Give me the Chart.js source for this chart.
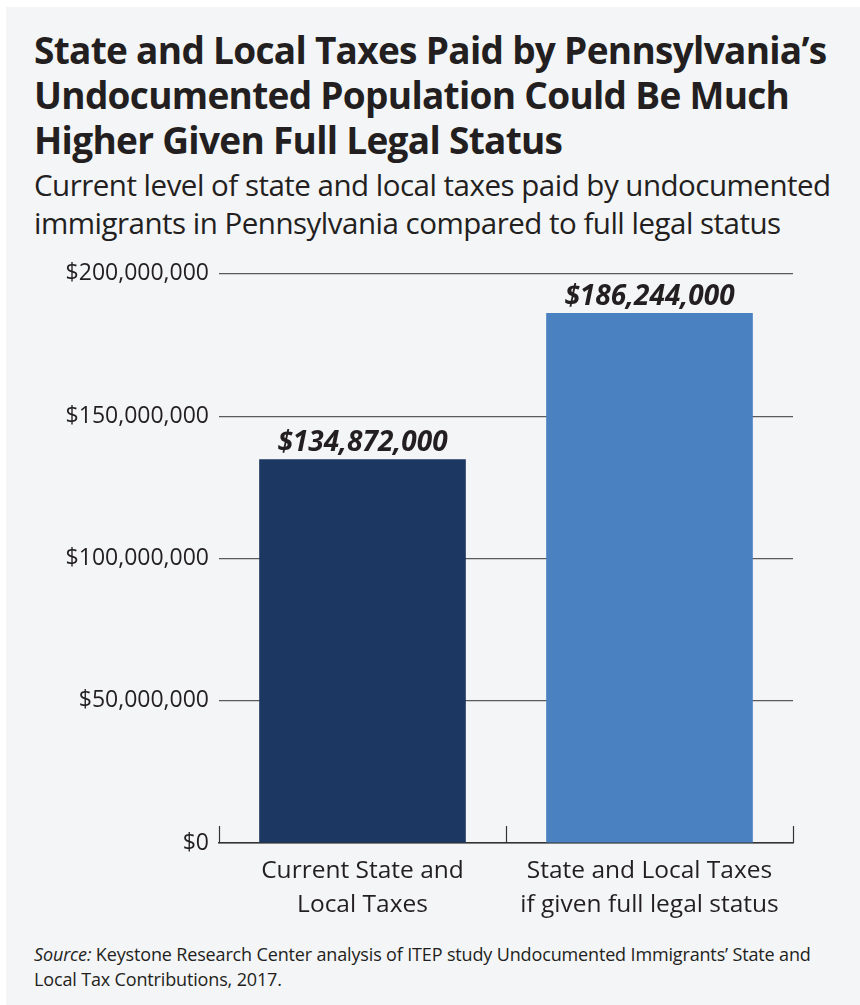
<!DOCTYPE html>
<html>
<head>
<meta charset="utf-8">
<script src="https://cdn.jsdelivr.net/npm/chart.js@4"></script>
<style>
  html, body { margin: 0; padding: 0; background: #fff; }
  body { width: 860px; height: 1005px; position: relative; overflow: hidden; font-family: "Open Sans", sans-serif; color: #231f20; }
  .panel { position: absolute; left: 6px; top: 7px; right: 0; bottom: 0; background: #f4f5f7; }
  .title { position: absolute; left: 34px; top: 27px; font-weight: 700; font-size: 37px; line-height: 45px; letter-spacing: -0.7px; white-space: nowrap; }
  .subtitle { position: absolute; left: 34px; top: 166px; font-weight: 400; font-size: 29.5px; line-height: 38px; letter-spacing: -0.5px; white-space: nowrap; }
  .source { position: absolute; left: 34px; top: 942px; font-size: 18px; line-height: 25px; letter-spacing: -0.15px; white-space: nowrap; }
  .chart-box { position: absolute; left: 0; top: 250px; width: 860px; height: 680px; }
</style>
</head>
<body>
<div class="panel"></div>
<div class="title">State and Local Taxes Paid by Pennsylvania’s<br>Undocumented Population Could Be Much<br>Higher Given Full Legal Status</div>
<div class="subtitle">Current level of state and local taxes paid by undocumented<br>immigrants in Pennsylvania compared to full legal status</div>
<div class="chart-box"><canvas id="taxChart" width="860" height="680"></canvas></div>
<div class="source"><i>Source:</i> Keystone Research Center analysis of ITEP study Undocumented Immigrants’ State and<br>Local Tax Contributions, 2017.</div>

<script>
// categories and values
const categories = [
    ['Current State and', 'Local Taxes'],
    ['State and Local Taxes', 'if given full legal status']
];
const taxesPaid = [134872000, 186244000];
const barColors = ['#1c3761', '#4a81c0'];
const yTicks = [0, 50000000, 100000000, 150000000, 200000000];

const money = v => '$' + v.toLocaleString('en-US');

// value labels above each bar
const valueLabels = {
    id: 'valueLabels',
    afterDatasetsDraw(chart) {
        const ctx = chart.ctx;
        const meta = chart.getDatasetMeta(0);
        ctx.save();
        ctx.font = 'italic 700 28px "Open Sans"';
        ctx.fillStyle = '#231f20';
        ctx.textAlign = 'center';
        ctx.textBaseline = 'alphabetic';
        meta.data.forEach((bar, i) => {
            ctx.fillText(money(taxesPaid[i]), bar.x, bar.y - 8);
        });
        ctx.restore();
    }
};

// short upward ticks on the category boundaries of the x axis
const boundaryTicks = {
    id: 'boundaryTicks',
    afterDraw(chart) {
        const x = chart.scales.x;
        const ctx = chart.ctx;
        const edges = [x.left];
        for (let i = 0; i < categories.length - 1; i++) {
            edges.push((x.getPixelForValue(i) + x.getPixelForValue(i + 1)) / 2);
        }
        edges.push(x.right);
        ctx.save();
        ctx.strokeStyle = '#333';
        ctx.lineWidth = 1.2;
        edges.forEach(px => {
            const p = Math.round(px) + 0.5;
            ctx.beginPath();
            ctx.moveTo(p, x.top);
            ctx.lineTo(p, x.top - 17);
            ctx.stroke();
        });
        ctx.restore();
    }
};

Chart.defaults.font.family = '"Open Sans", sans-serif';
Chart.defaults.color = '#231f20';

new Chart(document.getElementById('taxChart'), {
    type: 'bar',
    data: {
        labels: categories,
        datasets: [{
            data: taxesPaid,
            backgroundColor: barColors,
            barPercentage: 0.72,
            categoryPercentage: 1.0
        }]
    },
    options: {
        responsive: false,
        animation: false,
        layout: { padding: { top: 19, right: 67, left: 0, bottom: 0 } },
        plugins: {
            legend: { display: false },
            tooltip: { enabled: false }
        },
        scales: {
            x: {
                grid: { display: false, drawTicks: false },
                border: { display: true, color: '#333', width: 1.5 },
                ticks: { font: { size: 24.5, lineHeight: 1.39 }, padding: 11, color: '#231f20' },
                afterFit(scale) { scale.height = 87; }
            },
            y: {
                min: 0,
                max: 200000000,
                afterBuildTicks(scale) { scale.ticks = yTicks.map(v => ({ value: v })); },
                grid: { color: '#5a5a5a', lineWidth: 1.2, drawTicks: false },
                border: { display: false },
                ticks: {
                    font: { size: 23 },
                    padding: 10,
                    color: '#231f20',
                    callback: v => money(v)
                },
                afterFit(scale) { scale.width = 219; }
            }
        }
    },
    plugins: [valueLabels, boundaryTicks]
});
</script>
</body>
</html>
